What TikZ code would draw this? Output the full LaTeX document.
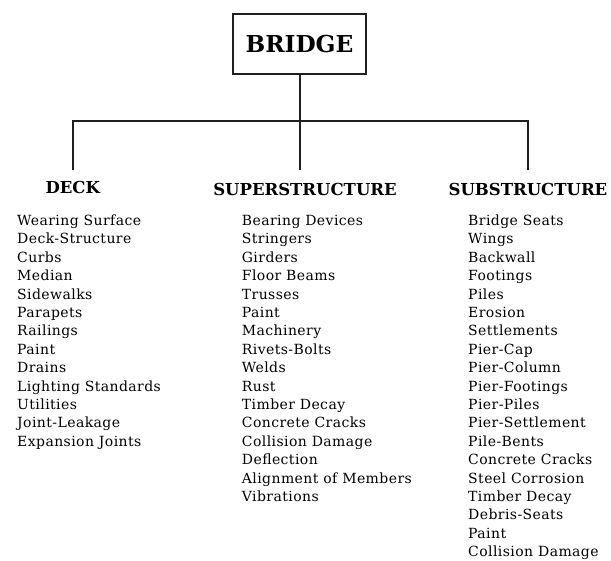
\documentclass[tikz,border=0pt]{standalone}
\usepackage{fontspec}
\setmainfont{DejaVu Serif}
\newfontfamily\itemfont[LetterSpace=3]{DejaVu Serif}
\tikzset{
  rule/.style={line width=2pt, draw=black!88},
  rootbox/.style={draw=black!88, line width=2.2pt, minimum width=133pt,
    minimum height=60pt, inner sep=0pt,
    font=\fontsize{23.3}{26}\selectfont\bfseries},
  heading/.style={anchor=base, inner sep=0pt,
    font=\fontsize{16.5}{20}\selectfont\bfseries},
  entry/.style={anchor=base west, inner sep=0pt,
    font=\itemfont\fontsize{14}{16}\selectfont},
}
\begin{document}
\begin{tikzpicture}[x=1pt,y=-1pt]
\useasboundingbox (0,0) rectangle (611,561);

% root
\node[rootbox] (bridge) at (299.5,44) {BRIDGE};

% branch points
\coordinate (hub) at (299.5,120.7);
\coordinate (jl)  at (72.7,120.7);
\coordinate (jr)  at (527.7,120.7);
\coordinate (el)  at (72.7,170);
\coordinate (ec)  at (299.5,170);
\coordinate (er)  at (527.7,170);

\draw[rule] (bridge.south) -- (hub) -- (ec);
\draw[rule] (el) -- (jl) -- (jr) -- (er);

% category headings
\node[heading] (deck)  at (72.7,193.5) {DECK};
\node[heading] (super) at (305,195.5)  {SUPERSTRUCTURE};
\node[heading] (sub)   at (528,195.5)  {SUBSTRUCTURE};

% component lists
\foreach \t [count=\i from 0] in {Wearing Surface, Deck-Structure, Curbs,
    Median, Sidewalks, Parapets, Railings, Paint, Drains,
    Lighting Standards, Utilities, Joint-Leakage, Expansion Joints}
  \node[entry, name=deck\i] at (17,{225.5+18.4*\i}) {\t};

\foreach \t [count=\i from 0] in {Bearing Devices, Stringers, Girders,
    Floor Beams, Trusses, Paint, Machinery, Rivets-Bolts, Welds, Rust,
    Timber Decay, Concrete Cracks, Collision Damage, Deflection,
    Alignment of Members, Vibrations}
  \node[entry, name=super\i] at (241.7,{225.5+18.4*\i}) {\t};

\foreach \t [count=\i from 0] in {Bridge Seats, Wings, Backwall, Footings,
    Piles, Erosion, Settlements, Pier-Cap, Pier-Column, Pier-Footings,
    Pier-Piles, Pier-Settlement, Pile-Bents, Concrete Cracks,
    Steel Corrosion, Timber Decay, Debris-Seats, Paint, Collision Damage}
  \node[entry, name=sub\i] at (468,{225.5+18.4*\i}) {\t};
\end{tikzpicture}
\end{document}
